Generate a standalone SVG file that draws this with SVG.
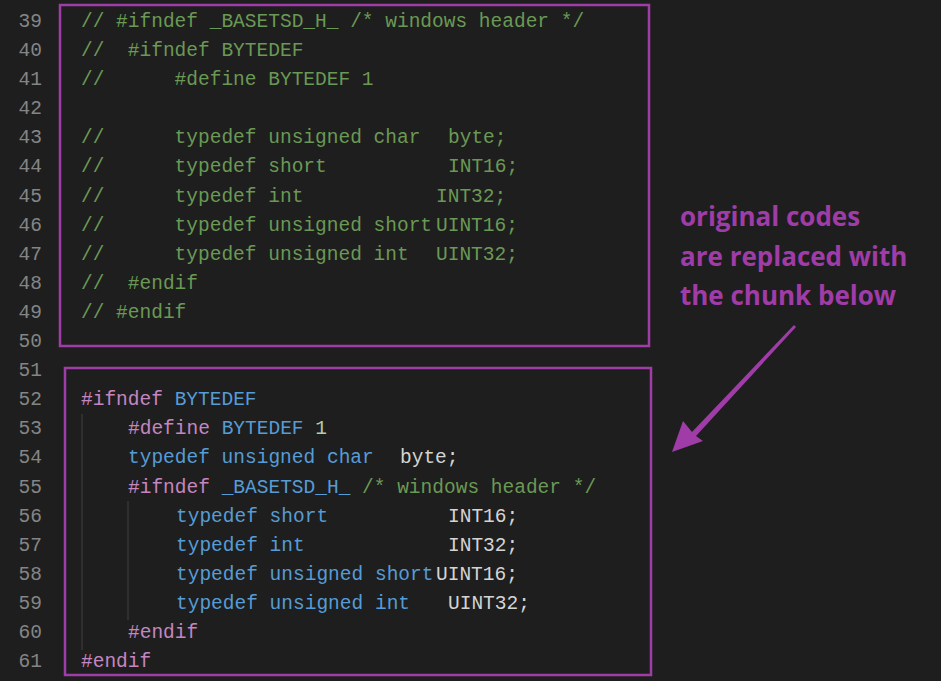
<svg xmlns="http://www.w3.org/2000/svg" width="941" height="681" viewBox="0 0 941 681">
<style>
.n{font-family:"Liberation Mono",monospace;font-size:19.5px;fill:#858585;text-anchor:end}
.c{font-family:"Liberation Mono",monospace;font-size:19.5px;fill:#d4d4d4;white-space:pre}
.g{fill:#6a9955}.p{fill:#c586c0}.k{fill:#569cd6}.d{fill:#b5cea8}.w{fill:#d4d4d4}
.box{fill:none;stroke:#a03ca8;stroke-width:2.5}
.ann{font-family:"Open Sans",sans-serif;font-weight:bold;font-size:26px;fill:#a03ca8}
</style>
<rect width="941" height="681" fill="#1e1e1e"/>
<g id="gutter">
<text class="n" x="42" y="27">39</text><text class="n" x="42" y="56">40</text><text class="n" x="42" y="85">41</text><text class="n" x="42" y="114">42</text><text class="n" x="42" y="143">43</text><text class="n" x="42" y="172">44</text><text class="n" x="42" y="202">45</text><text class="n" x="42" y="231">46</text><text class="n" x="42" y="260">47</text><text class="n" x="42" y="289">48</text><text class="n" x="42" y="318">49</text><text class="n" x="42" y="347">50</text><text class="n" x="42" y="376">51</text><text class="n" x="42" y="405">52</text><text class="n" x="42" y="434">53</text><text class="n" x="42" y="463">54</text><text class="n" x="42" y="493">55</text><text class="n" x="42" y="522">56</text><text class="n" x="42" y="551">57</text><text class="n" x="42" y="580">58</text><text class="n" x="42" y="609">59</text><text class="n" x="42" y="638">60</text><text class="n" x="42" y="667">61</text>
</g>
<g id="guides" stroke="#404040" stroke-width="1">
<line x1="82" y1="414" x2="82" y2="650"/><line x1="128" y1="501" x2="128" y2="620"/>
</g>
<g id="original">
<rect class="box" x="60" y="5" width="589" height="341"/>
<text class="c g" x="81" y="27">// #ifndef _BASETSD_H_ /* windows header */</text>
<text class="c g" x="81" y="56">//  #ifndef BYTEDEF</text>
<text class="c g" x="81" y="85">//      #define BYTEDEF 1</text>
<text class="c g" x="81" y="143">//      typedef unsigned char<tspan x="448">byte;</tspan></text>
<text class="c g" x="81" y="172">//      typedef short<tspan x="448">INT16;</tspan></text>
<text class="c g" x="81" y="202">//      typedef int<tspan x="436">INT32;</tspan></text>
<text class="c g" x="81" y="231">//      typedef unsigned short<tspan x="436">UINT16;</tspan></text>
<text class="c g" x="81" y="260">//      typedef unsigned int<tspan x="436">UINT32;</tspan></text>
<text class="c g" x="81" y="289">//  #endif</text>
<text class="c g" x="81" y="318">// #endif</text>
</g>
<g id="replacement">
<rect class="box" x="65" y="368" width="586" height="307"/>
<text class="c" x="81" y="405"><tspan class="p">#ifndef</tspan> <tspan class="k">BYTEDEF</tspan></text>
<text class="c" x="128" y="434"><tspan class="p">#define</tspan> <tspan class="k">BYTEDEF</tspan> <tspan class="d">1</tspan></text>
<text class="c" x="128" y="463"><tspan class="k">typedef unsigned char</tspan><tspan x="400" class="w">byte;</tspan></text>
<text class="c" x="128" y="493"><tspan class="p">#ifndef</tspan> <tspan class="k">_BASETSD_H_</tspan> <tspan class="g">/* windows header */</tspan></text>
<text class="c" x="176" y="522"><tspan class="k">typedef short</tspan><tspan x="448" class="w">INT16;</tspan></text>
<text class="c" x="176" y="551"><tspan class="k">typedef int</tspan><tspan x="448" class="w">INT32;</tspan></text>
<text class="c" x="176" y="580"><tspan class="k">typedef unsigned short</tspan><tspan x="436" class="w">UINT16;</tspan></text>
<text class="c" x="176" y="609"><tspan class="k">typedef unsigned int</tspan><tspan x="448" class="w">UINT32;</tspan></text>
<text class="c p" x="128" y="638">#endif</text>
<text class="c p" x="81" y="667">#endif</text>
</g>
<g id="annotation">
<text class="ann" x="680" y="226">original codes</text>
<text class="ann" x="680" y="266">are replaced with</text>
<text class="ann" x="680" y="305">the chunk below</text>
</g>
<g id="connectors">
<polygon fill="#a03ca8" points="796,327 794,325 692,432 683,421 672,452 703,441 696,436"/>
</g>
</svg>
